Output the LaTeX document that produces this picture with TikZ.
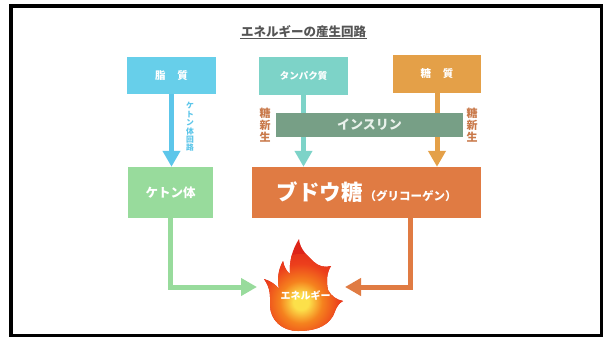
\documentclass[tikz,border=0pt]{standalone}
\usepackage{fontspec}
\newfontfamily\jp{Noto Sans CJK JP}
\usetikzlibrary{arrows.meta,calc}

\definecolor{lipidc}{HTML}{67CFEA}
\definecolor{lipidarrow}{HTML}{5CC6EA}
\definecolor{proteinc}{HTML}{7DD3C8}
\definecolor{sugarc}{HTML}{E4A048}
\definecolor{insulinc}{HTML}{779F86}
\definecolor{insulintext}{HTML}{EAF2EC}
\definecolor{gluconeo}{HTML}{C9794A}
\definecolor{ketonec}{HTML}{98DB9C}
\definecolor{glucosec}{HTML}{E07B43}
\definecolor{titlec}{HTML}{555555}
\definecolor{flY}{HTML}{FCE04A}
\definecolor{flO}{HTML}{F5821E}
\definecolor{flR}{HTML}{EC3F1C}
\definecolor{flR2}{HTML}{DD2418}

\pgfdeclareradialshading{flameshade}{\pgfpoint{0bp}{0bp}}{%
  color(0bp)=(flY); color(4bp)=(flY); color(11bp)=(flO);
  color(20bp)=(flR); color(32bp)=(flR2); color(50bp)=(flR2)}

\newcommand{\fsz}[2]{\fontsize{#1}{#2}\selectfont}

\tikzset{
  box/.style={rectangle, inner sep=0pt, text=white, font=\jp\bfseries\fsz{10.5pt}{12pt}},
  flow/.style={line width=5pt, -{Triangle[width=17pt,length=16pt]}},
  vlabel/.style={inner sep=0pt, align=center, font=\jp\bfseries\fsz{11pt}{11.7pt}, text=gluconeo},
}

\begin{document}
\begin{tikzpicture}[x=1pt, y=-1pt]
  \useasboundingbox (0,0) rectangle (607,338);
  \fill[white] (0,0) rectangle (607,338);
  \draw[line width=3.5pt] (10.75,5.75) rectangle (601.25,335.25);

  % title
  \node[inner sep=0pt, text=titlec, font=\jp\bfseries\fsz{12.5pt}{14pt}] (title) at (303.5,31.5) {エネルギーの産生回路};
  \draw[titlec, line width=0.8pt] (240,38.5) -- (367,38.5);

  % sources
  \node[box, fill=lipidc, minimum width=89pt, minimum height=37pt] (lipid) at (171.5,75.5) {脂\hspace{12pt}質};
  \node[box, fill=proteinc, minimum width=89pt, minimum height=38pt, font=\jp\bfseries\fsz{9.5pt}{11pt}] (protein) at (303.5,76) {タンパク質};
  \node[box, fill=sugarc, minimum width=88pt, minimum height=38pt] (sugar) at (437,74) {糖\hspace{12pt}質};

  % products
  \node[box, fill=ketonec, minimum width=85pt, minimum height=51pt, font=\jp\bfseries\fsz{12.5pt}{14pt}] (ketone) at (170.5,192.5) {ケトン体};
  \node[box, fill=glucosec, minimum width=229pt, minimum height=51pt] (glucose) at (366.5,192.5)
    {{\fsz{21.5pt}{24pt}ブドウ糖}\hspace{2pt}{\fsz{11.5pt}{14pt}（グリコーゲン）}};

  % flows into products
  \draw[flow, lipidarrow] (lipid.south) -- (lipid.south |- ketone.north);
  \draw[flow, proteinc] (protein.south) -- (protein.south |- glucose.north);
  \draw[flow, sugarc] (sugar.south) -- (sugar.south |- glucose.north);

  % insulin bar over the two flows
  \node[box, fill=insulinc, minimum width=187pt, minimum height=24pt, text=insulintext, font=\jp\bfseries\fsz{13pt}{14pt}] (insulin) at (369.5,125) {インスリン};

  \node[vlabel] (gnL) at (265,125) {糖\\新\\生};
  \node[vlabel] (gnR) at (472,125) {糖\\新\\生};
  \node[inner sep=0pt, align=center, text=lipidarrow, font=\jp\bfseries\fsz{7.8pt}{8.4pt}] (ketpath) at (190,127) {ケ\\ト\\ン\\体\\回\\路};

  % flame
  \begin{scope}
    \clip (298,331)
      .. controls (282,331) and (270,320) .. (270,305)
      .. controls (270,296) and (271,289) .. (264,279)
      .. controls (271,281) and (276,285) .. (279,289)
      .. controls (277,280) and (278,270) .. (283,261)
      .. controls (284,267) and (287,272) .. (290,274)
      .. controls (289,262) and (292,250) .. (299,239)
      .. controls (300,250) and (308,256) .. (314,262)
      .. controls (318,266) and (325,268) .. (331,266)
      .. controls (327,272) and (326,281) .. (328,290)
      .. controls (331,296) and (337,300) .. (343,301)
      .. controls (336,305) and (336,310) .. (333,316)
      .. controls (326,328) and (312,331) .. (298,331) -- cycle;
    \fill[flR2] (250,230) rectangle (350,340);
    \shade[shading=flameshade] (301,302) circle (48pt);
  \end{scope}
  \node[inner sep=0pt, text=white, font=\jp\bfseries\fsz{10pt}{12pt}] (energy) at (305.5,296) {エネルギー};

  \coordinate (flameL) at (257,287);
  \coordinate (flameR) at (345,287);
  \coordinate (gExit) at (410,287);

  % flows into the flame
  \draw[flow, ketonec] (ketone.south) |- (flameL);
  \draw[flow, glucosec] (glucose.south -| gExit) |- (flameR);
\end{tikzpicture}
\end{document}
